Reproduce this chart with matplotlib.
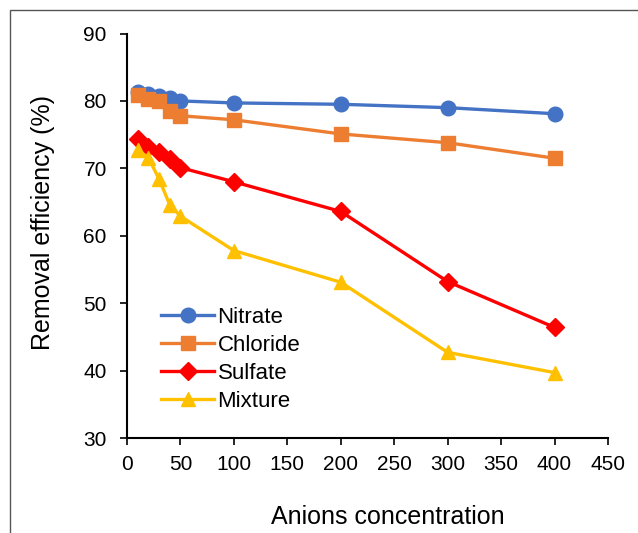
import matplotlib.pyplot as plt
from matplotlib.patches import Rectangle

plt.rcParams['font.family'] = ['Liberation Sans', 'DejaVu Sans']

conc = [10, 20, 30, 40, 50, 100, 200, 300, 400]
nitrate = [81.3, 81.0, 80.8, 80.5, 80.0, 79.7, 79.5, 79.0, 78.1]
chloride = [80.9, 80.3, 80.0, 78.5, 77.8, 77.2, 75.1, 73.8, 71.5]
sulfate = [74.3, 73.1, 72.4, 71.4, 70.1, 68.0, 63.6, 53.2, 46.4]
mixture = [72.7, 71.6, 68.4, 64.6, 62.9, 57.8, 53.1, 42.7, 39.7]

series = [
    ("Nitrate", nitrate, "#4472C4", "o"),
    ("Chloride", chloride, "#ED7D31", "s"),
    ("Sulfate", sulfate, "#FF0000", "D"),
    ("Mixture", mixture, "#FFC000", "^"),
]

fig = plt.figure(figsize=(6.38, 5.33), dpi=100)
# thin frame round the figure (runs off right and bottom edge)
fig.patches.append(Rectangle((10 / 638, -0.1), 1.2, 1.1 - 10 / 533,
                             transform=fig.transFigure, fill=False,
                             edgecolor="#555555", linewidth=1.0))
ax = fig.add_axes([127 / 638, 95 / 533, 481 / 638, 404.5 / 533])

for name, vals, col, mk in series:
    ms = 9 if mk == "D" else 10.5
    ax.plot(conc, vals, color=col, marker=mk, markersize=ms, linewidth=2.4,
            label=name, clip_on=False)

ax.set_xlim(0, 450)
ax.set_ylim(30, 90)
ax.set_xticks(range(0, 451, 50))
ax.set_yticks(range(30, 91, 10))
ax.spines['top'].set_visible(False)
ax.spines['right'].set_visible(False)
ax.spines['left'].set_linewidth(1.5)
ax.spines['bottom'].set_linewidth(1.5)
ax.tick_params(direction='out', length=5, width=1.2, labelsize=15)
ax.tick_params(axis='x', pad=7.5)
ax.tick_params(axis='y', pad=9.5)
ax.set_xlabel("Anions concentration", fontsize=18, va='top')
ax.xaxis.set_label_coords(0.543, -0.165)
ax.set_ylabel("Removal efficiency (%)", fontsize=18)
ax.yaxis.set_label_coords(-0.15, 0.533)

ax.legend(loc='upper left', bbox_to_anchor=(0.052, 0.347), frameon=False,
          fontsize=16, handlelength=2.4, handletextpad=0.15,
          labelspacing=0.32, borderaxespad=0)

fig.savefig("out.png", dpi=100)
